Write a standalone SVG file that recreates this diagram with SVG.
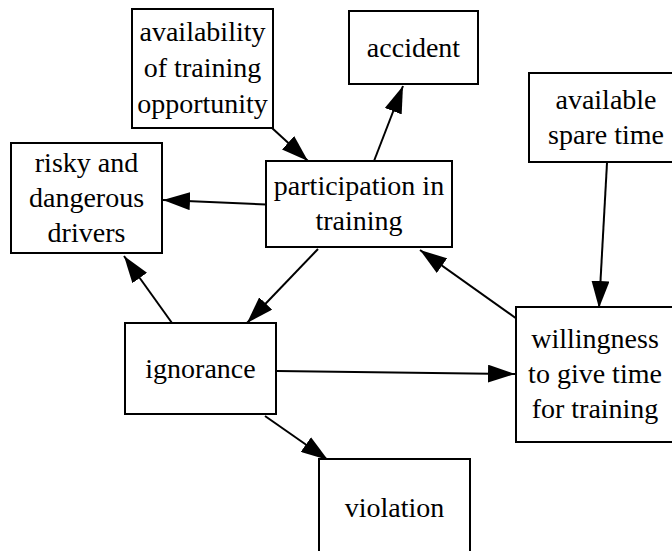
<svg xmlns="http://www.w3.org/2000/svg" width="672" height="551" viewBox="0 0 672 551">
  <style>
    .node rect { fill: #ffffff; stroke: #000000; stroke-width: 2; }
    .node text { font-family: "Liberation Serif", "Times New Roman", "DejaVu Serif", serif; font-size: 28px; fill: #000000; text-anchor: middle; }
    .edge { fill: none; stroke: #000000; stroke-width: 2; marker-end: url(#arrow); }
  </style>
  <defs>
    <marker id="arrow" markerUnits="userSpaceOnUse" markerWidth="28" markerHeight="18" refX="27" refY="9" orient="auto">
      <path d="M0,0 L27,9 L0,18 Z" fill="#000000"/>
    </marker>
  </defs>
  <rect width="672" height="551" fill="#ffffff"/>

  <!-- connectors -->
  <g id="edges">
    <path class="edge" d="M272,128 L308,161"/>
    <path class="edge" d="M374,161 L403,86"/>
    <path class="edge" d="M266,204.5 L163,200"/>
    <path class="edge" d="M318,249 L247,323"/>
    <path class="edge" d="M172,323 L124,256"/>
    <path class="edge" d="M277,371 L515,374"/>
    <path class="edge" d="M265,416 L328,460"/>
    <path class="edge" d="M607,163 L599,308"/>
    <path class="edge" d="M517,319 L420,250"/>
  </g>

  <!-- nodes -->
  <g id="availability" class="node">
    <rect x="132" y="9" width="141" height="119"/>
    <text x="202.5" y="41">availability</text>
    <text x="202.5" y="77">of training</text>
    <text x="202.5" y="113">opportunity</text>
  </g>
  <g id="accident" class="node">
    <rect x="349" y="11" width="129" height="73"/>
    <text x="413.5" y="57">accident</text>
  </g>
  <g id="risky" class="node">
    <rect x="11" y="143" width="151" height="110"/>
    <text x="86.5" y="172">risky and</text>
    <text x="86.5" y="207">dangerous</text>
    <text x="86.5" y="242">drivers</text>
  </g>
  <g id="participation" class="node">
    <rect x="266" y="161" width="186" height="86"/>
    <text x="359" y="195">participation in</text>
    <text x="359" y="230">training</text>
  </g>
  <g id="spare_time" class="node">
    <rect x="529" y="73" width="154" height="89"/>
    <text x="606" y="109">available</text>
    <text x="606" y="144">spare time</text>
  </g>
  <g id="ignorance" class="node">
    <rect x="125" y="323" width="151" height="91"/>
    <text x="200.5" y="378">ignorance</text>
  </g>
  <g id="willingness" class="node">
    <rect x="516" y="307" width="158" height="135"/>
    <text x="595" y="348">willingness</text>
    <text x="595" y="383">to give time</text>
    <text x="595" y="418">for training</text>
  </g>
  <g id="violation" class="node">
    <rect x="319" y="459" width="151" height="97"/>
    <text x="394.5" y="517">violation</text>
  </g>
</svg>
